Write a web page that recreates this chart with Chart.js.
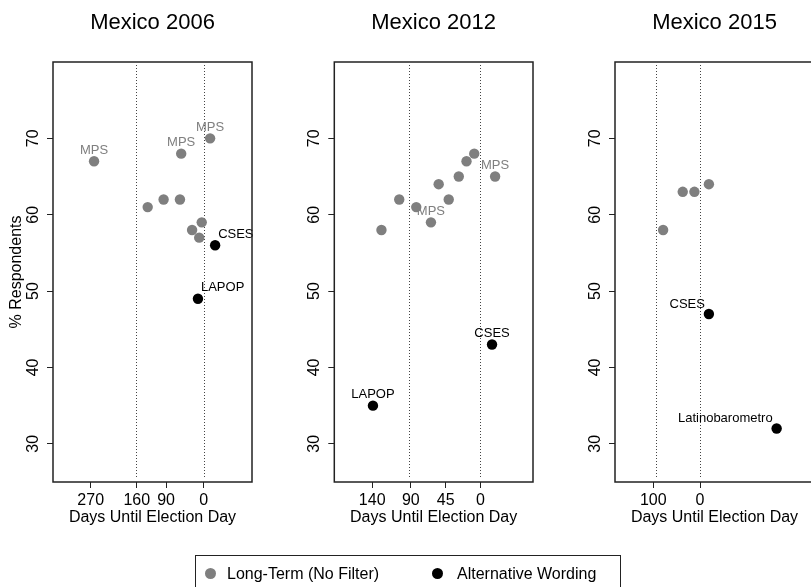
<!DOCTYPE html>
<html>
<head>
<meta charset="utf-8">
<title>Mexico</title>
<script src="https://cdn.jsdelivr.net/npm/chart.js@4.4.1/dist/chart.umd.min.js"></script>
<style>
    html, body { margin: 0; padding: 0; background: #fff; width: 811px; height: 587px; overflow: hidden; }
    canvas { position: absolute; top: 0; }
    #legend {
        position: absolute; left: 195px; top: 555px; width: 424px; height: 45px;
        border: 1.3px solid #222; font: 16px "Liberation Sans", Arial, sans-serif; color: #000;
    }
    #legend .dot { position: absolute; top: 12px; width: 11px; height: 11px; border-radius: 50%; }
    #legend .txt { position: absolute; top: 8px; line-height: 19px; white-space: nowrap; }
</style>
</head>
<body>
<canvas id="c2006" width="270" height="587" style="left:0px"></canvas>
<canvas id="c2012" width="280" height="587" style="left:270px"></canvas>
<canvas id="c2015" width="270" height="587" style="left:550px"></canvas>
<div id="legend">
    <span class="dot" style="left:9px;background:#7f7f7f"></span><span class="txt" style="left:31px">Long-Term (No Filter)</span>
    <span class="dot" style="left:236px;background:#000"></span><span class="txt" style="left:261px">Alternative Wording</span>
</div>
<script>
// --- DATA ---
const pctTicks = [30, 40, 50, 60, 70];

// Mexico 2006
const days06Ticks = [270, 160, 90, 0];
const days06Lines = [163, 0];
const lt06Days = [262, 134, 96, 57, 54, -15, 5, 28, 11];
const lt06Pct = [67, 61, 62, 62, 68, 70, 59, 58, 57];
const lt06Labels = ['MPS', '', '', '', 'MPS', 'MPS', '', '', ''];
const alt06Days = [-27, 14];
const alt06Pct = [56, 49];
const alt06Labels = ['CSES', 'LAPOP'];

// Mexico 2012
const days12Ticks = [140, 90, 45, 0];
const days12Lines = [93, 0];
const lt12Days = [128, 105, 83, 64, 54, 41, 28, 18, 8, -19];
const lt12Pct = [58, 62, 61, 59, 64, 62, 65, 67, 68, 65];
const lt12Labels = ['', '', '', 'MPS', '', '', '', '', '', 'MPS'];
const alt12Days = [-15, 139];
const alt12Pct = [43, 35];
const alt12Labels = ['CSES', 'LAPOP'];

// Mexico 2015
const days15Ticks = [100, 0];
const days15Lines = [94, 0];
const lt15Days = [79, 37, 12, -19];
const lt15Pct = [58, 63, 63, 64];
const lt15Labels = ['', '', '', ''];
const alt15Days = [-19, -164];
const alt15Pct = [47, 32];
const alt15Labels = ['CSES', 'Latinobarometro'];

// --- STYLE ---
const FONT = '"Liberation Sans", Arial, Helvetica, sans-serif';
const GRAY = '#7f7f7f';
const INK = '#222';

function pts(xs, ys) {
    return xs.map((x, i) => ({ x: x, y: ys[i] }));
}

// dotted reference lines, point labels and the box around the plot
const decor = {
    id: 'decor',
    beforeDatasetsDraw(chart, args, opts) {
        const { ctx, chartArea: a, scales: { x } } = chart;
        ctx.save();
        ctx.strokeStyle = '#444';
        ctx.lineWidth = 1;
        ctx.setLineDash([1, 2]);
        opts.lines.forEach(v => {
            const px = Math.round(x.getPixelForValue(v)) + 0.5;
            ctx.beginPath();
            ctx.moveTo(px, a.top + 3);
            ctx.lineTo(px, a.bottom - 4);
            ctx.stroke();
        });
        ctx.restore();
    },
    afterDatasetsDraw(chart) {
        const { ctx } = chart;
        ctx.save();
        ctx.font = '13px ' + FONT;
        ctx.textBaseline = 'middle';
        chart.data.datasets.forEach((ds, di) => {
            const meta = chart.getDatasetMeta(di);
            ctx.fillStyle = ds.labelColor;
            meta.data.forEach((el, i) => {
                const t = ds.pointLabels[i];
                if (!t) return;
                if (ds.labelPlace === 'upright') {
                    ctx.textAlign = 'left';
                    ctx.fillText(t, el.x + 3, el.y - 11);
                } else if (ds.labelPlace === 'upleft') {
                    ctx.textAlign = 'right';
                    ctx.fillText(t, el.x - 4, el.y - 10);
                } else {
                    ctx.textAlign = 'center';
                    ctx.fillText(t, el.x, el.y - 11);
                }
            });
        });
        ctx.restore();
    },
    afterDraw(chart) {
        const { ctx, chartArea: a } = chart;
        ctx.save();
        ctx.strokeStyle = INK;
        ctx.lineWidth = 1.5;
        ctx.strokeRect(a.left, a.top, a.right - a.left, a.bottom - a.top);
        ctx.restore();
    }
};

function makePanel(id, cfg) {
    new Chart(document.getElementById(id), {
        type: 'scatter',
        data: {
            datasets: [{
                data: pts(cfg.ltDays, cfg.ltPct),
                pointLabels: cfg.ltLabels,
                labelColor: GRAY,
                labelPlace: 'above',
                backgroundColor: GRAY,
                borderWidth: 0,
                pointRadius: 5.2
            }, {
                data: pts(cfg.altDays, cfg.altPct),
                pointLabels: cfg.altLabels,
                labelColor: '#000',
                labelPlace: cfg.altPlace,
                backgroundColor: '#000',
                borderWidth: 0,
                pointRadius: 5.2
            }]
        },
        plugins: [decor],
        options: {
            responsive: false,
            animation: false,
            events: [],
            layout: { padding: { left: 0, right: cfg.padRight, top: 0, bottom: 59.4 } },
            plugins: {
                legend: { display: false },
                tooltip: { enabled: false },
                title: {
                    display: true,
                    text: cfg.title,
                    fullSize: false,
                    color: '#000',
                    font: { family: FONT, size: 22, weight: 'normal' },
                    padding: { top: 10, bottom: 25.6 }
                },
                decor: { lines: cfg.lines }
            },
            scales: {
                x: {
                    type: 'linear',
                    reverse: true,
                    min: cfg.xMin,
                    max: cfg.xMax,
                    afterBuildTicks: s => { s.ticks = cfg.xTicks.map(v => ({ value: v })); },
                    afterFit: s => { s.height = 45.6; },
                    grid: { drawOnChartArea: false, drawTicks: true, tickLength: 6, color: INK, lineWidth: 1 },
                    border: { display: false },
                    ticks: { autoSkip: false, maxRotation: 0, padding: 3, color: '#000', font: { family: FONT, size: 16 } },
                    title: { display: true, text: 'Days Until Election Day', color: '#000', padding: 0, font: { family: FONT, size: 16 } }
                },
                y: {
                    min: 25,
                    max: 80,
                    afterBuildTicks: s => { s.ticks = pctTicks.map(v => ({ value: v })); },
                    afterFit: s => { s.width = cfg.yWidth; },
                    grid: { drawOnChartArea: false, drawTicks: true, tickLength: 6, color: INK, lineWidth: 1 },
                    border: { display: false },
                    ticks: { minRotation: 90, maxRotation: 90, crossAlign: 'center', padding: 5, color: '#000', font: { family: FONT, size: 16 } },
                    title: { display: cfg.yTitle, text: '% Respondents', color: '#000', padding: { top: 7 }, font: { family: FONT, size: 16 } }
                }
            }
        }
    });
}

makePanel('c2006', {
    title: 'Mexico 2006', xMin: -115, xMax: 360, xTicks: days06Ticks, lines: days06Lines,
    ltDays: lt06Days, ltPct: lt06Pct, ltLabels: lt06Labels,
    altDays: alt06Days, altPct: alt06Pct, altLabels: alt06Labels, altPlace: 'upright',
    yWidth: 53, padRight: 18, yTitle: true
});
makePanel('c2012', {
    title: 'Mexico 2012', xMin: -68, xMax: 189, xTicks: days12Ticks, lines: days12Lines,
    ltDays: lt12Days, ltPct: lt12Pct, ltLabels: lt12Labels,
    altDays: alt12Days, altPct: alt12Pct, altLabels: alt12Labels, altPlace: 'above',
    yWidth: 64.3, padRight: 17, yTitle: false
});
makePanel('c2015', {
    title: 'Mexico 2015', xMin: -244, xMax: 182, xTicks: days15Ticks, lines: days15Lines,
    ltDays: lt15Days, ltPct: lt15Pct, ltLabels: lt15Labels,
    altDays: alt15Days, altPct: alt15Pct, altLabels: alt15Labels, altPlace: 'upleft',
    yWidth: 65, padRight: 6, yTitle: false
});
</script>
</body>
</html>
